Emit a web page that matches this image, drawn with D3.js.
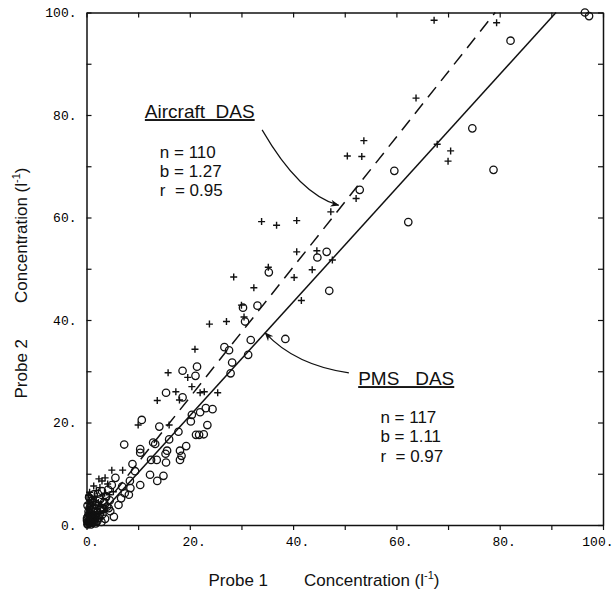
<!DOCTYPE html>
<html>
<head>
<meta charset="utf-8">
<script src="https://cdn.jsdelivr.net/npm/d3@7"></script>
<style>
  body { margin: 0; background: #fff; }
  svg { display: block; font-family: "Liberation Sans", Arial, sans-serif; }
  .tick text { font-family: "Liberation Mono", "DejaVu Sans Mono", monospace; font-size: 13px; fill: #000; }
  .tick line, .domain { stroke: #111; }
</style>
</head>
<body>
<script>

// axis ticks and labels
var tickValues = [0, 10, 20, 30, 40, 50, 60, 70, 80, 90, 100];
var labelValues = [0, 20, 40, 60, 80, 100];

// Aircraft DAS (crosses) [probe1, probe2]
var aircraft = [
  [67.3, 98.5], [79.4, 98.0], [63.8, 83.3], [53.7, 75.0], [50.5, 72.0], [53.3, 71.9],
  [67.9, 74.3], [70.5, 73.0], [70.0, 71.0], [52.2, 63.7], [47.3, 61.1], [33.9, 59.2],
  [36.8, 58.5], [40.7, 59.4], [40.7, 53.3], [44.6, 53.5], [47.6, 51.7], [43.7, 49.8],
  [40.2, 48.3], [35.2, 50.3], [41.6, 43.8], [28.5, 48.4], [32.4, 46.3], [30.0, 42.9],
  [30.5, 40.6], [23.8, 39.2], [27.1, 39.7], [21.0, 34.3], [15.8, 29.7], [19.6, 28.8],
  [20.4, 27.0], [22.0, 25.8], [22.8, 26.0], [25.4, 25.8], [17.3, 26.0], [13.7, 24.3],
  [18.0, 24.4], [10.0, 19.5], [16.0, 19.5], [7.0, 10.7], [4.9, 10.7], [3.6, 9.2],
  // low cluster
  [0.2, 0.5], [0.5, 1.2], [0.9, 0.7], [1.3, 1.4], [0.4, 2.5], [1.7, 2.1], [2.1, 3.2],
  [0.7, 3.5], [1.0, 5.0], [2.3, 4.4], [1.6, 5.6], [2.7, 2.6], [3.2, 5.2], [0.3, 4.2],
  [1.9, 6.7], [2.6, 7.3], [3.5, 6.2], [4.1, 8.0], [2.9, 4.0], [3.7, 3.3], [1.2, 0.2],
  [2.0, 1.0], [0.6, 6.4], [1.4, 7.6], [4.4, 5.9], [3.0, 8.6], [2.4, 9.0], [5.2, 6.5],
  [0.1, 1.8], [1.8, 3.9], [0.1, 0.1], [0.4, 0.3], [0.7, 0.2], [0.3, 0.9], [0.6, 1.6],
  [1.0, 1.0], [0.2, 2.1], [0.8, 2.0], [1.1, 2.6], [0.5, 3.0], [1.5, 0.6], [1.9, 1.6],
  [0.3, 3.3], [1.2, 3.8], [0.9, 4.4], [2.2, 2.2], [0.6, 4.9], [1.4, 4.6], [2.6, 3.6],
  [0.4, 5.8], [3.3, 2.6], [2.8, 1.3]
];

// PMS DAS (circles)
var pms = [
  [82.1, 94.5], [96.5, 100.0], [97.3, 99.3], [74.7, 77.4], [59.6, 69.1], [78.8, 69.3],
  [52.9, 65.4], [62.3, 59.1], [44.7, 52.2], [46.5, 53.3], [35.3, 49.3], [47.0, 45.7],
  [33.1, 42.8], [30.3, 42.4], [30.7, 39.7], [31.8, 36.1], [38.5, 36.3], [31.3, 33.2],
  [26.7, 34.7], [27.6, 34.1], [28.2, 31.7], [27.9, 29.6], [18.6, 30.1], [21.4, 30.9],
  [21.1, 29.1], [15.4, 25.8], [18.6, 24.9], [20.4, 21.5], [22.0, 22.0], [23.1, 22.8],
  [24.4, 22.6], [10.7, 20.5], [14.1, 19.2], [17.8, 18.2], [20.2, 20.2], [23.4, 19.5],
  [21.2, 17.6], [21.8, 17.6], [22.7, 17.7], [7.3, 15.7], [10.4, 14.8], [12.9, 16.1],
  [13.3, 15.8], [16.0, 16.7], [15.6, 14.5], [15.3, 13.9], [19.3, 15.4], [18.1, 14.5],
  [18.4, 13.5], [18.1, 12.7], [12.5, 12.7], [13.6, 12.7], [15.4, 12.2], [8.9, 11.9],
  [9.4, 10.5], [12.3, 9.8], [14.9, 9.6], [10.4, 7.8], [13.7, 8.6], [8.4, 8.6],
  [5.6, 9.2], [4.9, 7.8], [6.9, 7.5], [8.5, 7.2], [7.4, 6.2], [6.7, 5.2], [8.2, 5.9],
  [6.2, 3.9], [5.3, 1.6], [4.3, 3.3], [10.4, 14.1],
  // low cluster
  [0.3, 0.2], [0.6, 0.8], [1.0, 0.4], [0.4, 1.5], [1.2, 1.8], [1.6, 0.9], [2.0, 2.4],
  [0.8, 2.9], [1.5, 3.3], [2.4, 1.4], [2.8, 3.0], [3.1, 2.1], [1.9, 4.1], [3.4, 4.4],
  [2.6, 5.0], [4.0, 3.6], [3.8, 5.6], [4.5, 4.8], [0.2, 3.8], [1.1, 4.7], [2.2, 6.1],
  [3.0, 6.6], [4.2, 6.9], [0.5, 5.4], [1.4, 6.0], [2.9, 0.6], [3.6, 1.2], [0.1, 0.9],
  [0.9, 0.1], [1.8, 0.3], [2.5, 2.0], [3.3, 3.1], [4.6, 2.7], [0.7, 2.2], [1.3, 2.6],
  [0.2, 0.1], [0.5, 0.5], [0.1, 1.3], [0.8, 1.4], [0.4, 2.6], [1.6, 1.5], [0.2, 0.6],
  [1.1, 1.1], [0.6, 3.3], [2.1, 0.8]
];

// regression lines: aircraft (dashed), pms (solid)
var fitNames = ['Aircraft  DAS', 'PMS   DAS'];
var fitSlopes = [1.27, 1.11];
var fitIntercepts = [-0.5, -0.9];
var fitN = ['n = 110', 'n = 117'];
var fitB = ['b = 1.27', 'b = 1.11'];
var fitR = ['r  = 0.95', 'r  = 0.97'];

var svg = d3.select('body').append('svg')
    .attr('width', 615)
    .attr('height', 601);

var x = d3.scaleLinear().domain([0, 100]).range([86.5, 603]);
var y = d3.scaleLinear().domain([0, 100]).range([525, 12.5]);

// axes - bottom ticks point out, the rest point in
var fmt = function(d) { return labelValues.indexOf(d) >= 0 ? d + '.' : ''; };

var gx = svg.append('g')
    .attr('transform', 'translate(0,' + y(0) + ')')
    .call(d3.axisBottom(x).tickValues(tickValues).tickSizeInner(5).tickSizeOuter(0)
      .tickPadding(7).tickFormat(fmt));
gx.selectAll('text').attr('dx', '0.3em');
// the last label has to stay inside the page
gx.selectAll('.tick').filter(function(d) { return d === 100; }).select('text')
    .attr('text-anchor', 'end').attr('dx', null).attr('x', 10);

var gy = svg.append('g')
    .attr('transform', 'translate(' + x(0) + ',0)')
    .call(d3.axisLeft(y).tickValues(tickValues).tickSizeInner(-5).tickSizeOuter(0)
      .tickPadding(10).tickFormat(fmt));

svg.append('g')
    .attr('transform', 'translate(0,' + y(100) + ')')
    .call(d3.axisTop(x).tickValues(tickValues).tickSizeInner(-5).tickSizeOuter(0).tickFormat(''));

svg.append('g')
    .attr('transform', 'translate(' + x(100) + ',0)')
    .call(d3.axisRight(y).tickValues(tickValues).tickSizeInner(-5).tickSizeOuter(0).tickFormat(''));

svg.selectAll('.domain').attr('stroke-width', 1.5);
svg.selectAll('.tick line').attr('stroke-width', 1.2);

// fit lines
fitSlopes.forEach(function(b, i) {
  var a = fitIntercepts[i];
  var x0 = Math.max(0.3, -a / b), x1 = (100 - a) / b;
  svg.append('line')
      .attr('x1', x(x0)).attr('y1', y(a + b * x0))
      .attr('x2', x(x1)).attr('y2', y(a + b * x1))
      .attr('stroke', '#111')
      .attr('stroke-width', 1.5)
      .attr('stroke-dasharray', i === 0 ? '13,8' : null);
});

// markers
svg.append('g').selectAll('path')
    .data(aircraft)
  .enter().append('path')
    .attr('d', function(d) {
      var cx = x(d[0]), cy = y(d[1]);
      return 'M' + (cx - 3.5) + ',' + cy + 'h7M' + cx + ',' + (cy - 3.5) + 'v7';
    })
    .attr('stroke', '#111')
    .attr('stroke-width', 1.4);

svg.append('g').selectAll('circle')
    .data(pms)
  .enter().append('circle')
    .attr('cx', function(d) { return x(d[0]); })
    .attr('cy', function(d) { return y(d[1]); })
    .attr('r', 3.7)
    .attr('fill', 'none')
    .attr('stroke', '#111')
    .attr('stroke-width', 1.3);

// annotation arrows (start, control, end in data units)
var arrows = [
  [[34.0, 77.1], [41.3, 64.4], [48.8, 62.4]],
  [[50.8, 29.7], [40.4, 31.2], [34.6, 37.5]]
];

svg.append('defs').append('marker')
    .attr('id', 'head')
    .attr('viewBox', '0 0 10 10')
    .attr('refX', 9).attr('refY', 5)
    .attr('markerWidth', 9).attr('markerHeight', 9)
    .attr('markerUnits', 'userSpaceOnUse')
    .attr('orient', 'auto')
  .append('path')
    .attr('d', 'M0,1L10,5L0,9L3,5Z')
    .attr('fill', '#111');

arrows.forEach(function(p) {
  svg.append('path')
      .attr('d', 'M' + x(p[0][0]) + ',' + y(p[0][1]) +
                 'Q' + x(p[1][0]) + ',' + y(p[1][1]) + ' ' + x(p[2][0]) + ',' + y(p[2][1]))
      .attr('fill', 'none')
      .attr('stroke', '#111')
      .attr('stroke-width', 1.2)
      .attr('marker-end', 'url(#head)');
});

// annotation text blocks (title pos and stats pos in data units)
var titlePos = [[11.3, 79.4], [52.6, 27.3]];
var statPos = [[14.2, 71.7], [56.9, 19.9]];

titlePos.forEach(function(p, i) {
  svg.append('text')
      .attr('x', x(p[0])).attr('y', y(p[1]))
      .attr('font-size', 19)
      .attr('fill', '#111')
      .style('text-decoration', 'underline')
      .style('white-space', 'pre')
      .text(fitNames[i]);
  var lines = [fitN[i], fitB[i], fitR[i]];
  lines.forEach(function(t, j) {
    svg.append('text')
        .attr('x', x(statPos[i][0])).attr('y', y(statPos[i][1]) + j * 19.3)
        .attr('font-size', 17)
        .attr('fill', '#111')
        .style('white-space', 'pre')
        .text(t);
  });
});

// axis titles
function title(sel, probe) {
  sel.attr('font-size', 17).attr('fill', '#111').attr('text-anchor', 'middle');
  sel.append('tspan').text(probe);
  sel.append('tspan').attr('dx', 36).text('Concentration (l');
  sel.append('tspan').attr('font-size', 11).attr('dy', -7).text('-1');
  sel.append('tspan').attr('dy', 7).text(')');
}

svg.append('text')
    .attr('x', 324).attr('y', 586)
    .call(title, 'Probe 1');

svg.append('text')
    .attr('transform', 'translate(27,283) rotate(-90)')
    .call(title, 'Probe 2');

</script>
</body>
</html>
